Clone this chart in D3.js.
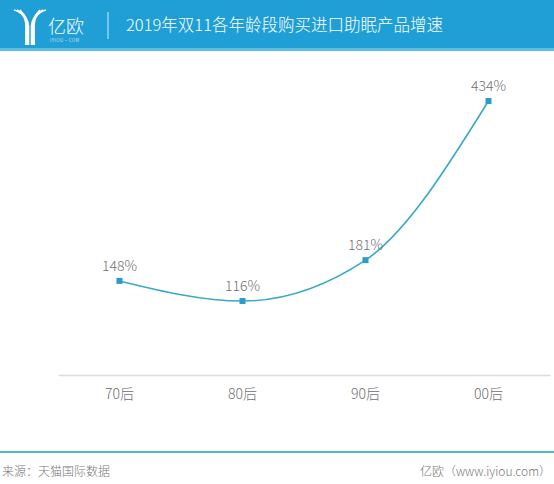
<!DOCTYPE html>
<html>
<head>
<meta charset="utf-8">
<script src="https://cdn.jsdelivr.net/npm/d3@7"></script>
<style>
  body { margin: 0; background: #fff; }
  svg { display: block; font-family: "Microsoft YaHei", "Noto Sans CJK SC", sans-serif; font-weight: 300; }
</style>
</head>
<body>
<svg id="chart"></svg>
<script>
// data
var categories = ["70后", "80后", "90后", "00后"]
var growth = [148, 116, 181, 434]
var labels = ["148%", "116%", "181%", "434%"]

var width = 554
var height = 484
var svg = d3.select("#chart").attr("width", width).attr("height", height)

// header band
svg.append("rect").attr("x", 0).attr("y", 0).attr("width", width).attr("height", 50).attr("fill", "#1f9fd5")
svg.append("rect").attr("x", 0).attr("y", 48).attr("width", width).attr("height", 3).attr("fill", "#5cbde6")

// logo: a "Y" made of parallel white strokes
var logo = svg.append("g").attr("fill", "none").attr("stroke", "#fff").attr("stroke-width", 1.8)
;[0, 3, 6].forEach(function(o) {
  logo.append("path").attr("d", "M" + (14 + o) + ",10 Q" + (26 + o * 0.4) + "," + (13 + o) + " " + (26 + o * 0.4) + ",26 L" + (26 + o * 0.4) + ",45")
  logo.append("path").attr("d", "M" + (46 - o) + ",10 Q" + (34 - o * 0.4) + "," + (13 + o) + " " + (34 - o * 0.4) + ",26 L" + (34 - o * 0.4) + ",45")
})
svg.append("text").attr("x", 48).attr("y", 33).attr("fill", "#fff").attr("font-size", 18).text("亿欧")
svg.append("text").attr("x", 50).attr("y", 42).attr("fill", "#fff").attr("font-size", 4.5).attr("letter-spacing", 0.5).text("IYIOU·COM")
svg.append("line").attr("x1", 108).attr("x2", 108).attr("y1", 12).attr("y2", 39).attr("stroke", "#cfeaf7").attr("stroke-width", 1)
svg.append("text").attr("x", 126).attr("y", 31).attr("fill", "#fff").attr("font-size", 16.5).text("2019年双11各年龄段购买进口助眠产品增速")

// scales
var x = d3.scaleBand().domain(categories).range([58, 550])
var y = d3.scaleLinear().domain([0, 500]).range([374, 59.5])

// axis
var xAxis = svg.append("g").attr("transform", "translate(0,375)")
  .call(d3.axisBottom(x).tickSize(0).tickPadding(14))
xAxis.select(".domain").attr("stroke", "#dcdcdc").attr("stroke-width", 1.5)
xAxis.selectAll("text").attr("font-size", 14).attr("fill", "#6f6f6f")
  .attr("font-family", "\"Microsoft YaHei\", \"Noto Sans CJK SC\", sans-serif")

var pts = categories.map(function(c, i) { return [x(c) + x.bandwidth() / 2, y(growth[i])] })

var line = d3.line().curve(d3.curveMonotoneX)
svg.append("path").attr("d", line(pts)).attr("fill", "none").attr("stroke", "#3aa8c9").attr("stroke-width", 1.6)

svg.append("g").selectAll("rect").data(pts).enter().append("rect")
  .attr("x", d => d[0] - 3).attr("y", d => d[1] - 3)
  .attr("width", 6).attr("height", 6).attr("fill", "#2b9bcf")

svg.append("g").selectAll("text").data(pts).enter().append("text")
  .attr("x", d => d[0]).attr("y", d => d[1] - 10)
  .attr("text-anchor", "middle").attr("font-size", 14).attr("fill", "#6f6f6f")
  .text((d, i) => labels[i])

// footer
svg.append("rect").attr("x", 0).attr("y", 451).attr("width", width).attr("height", 2).attr("fill", "#54b9cc")
svg.append("text").attr("x", 2).attr("y", 476).attr("font-size", 12).attr("fill", "#777").text("来源：天猫国际数据")
svg.append("text").attr("x", 551).attr("y", 476).attr("text-anchor", "end").attr("font-size", 12).attr("fill", "#777").text("亿欧（www.iyiou.com）")
</script>
</body>
</html>
